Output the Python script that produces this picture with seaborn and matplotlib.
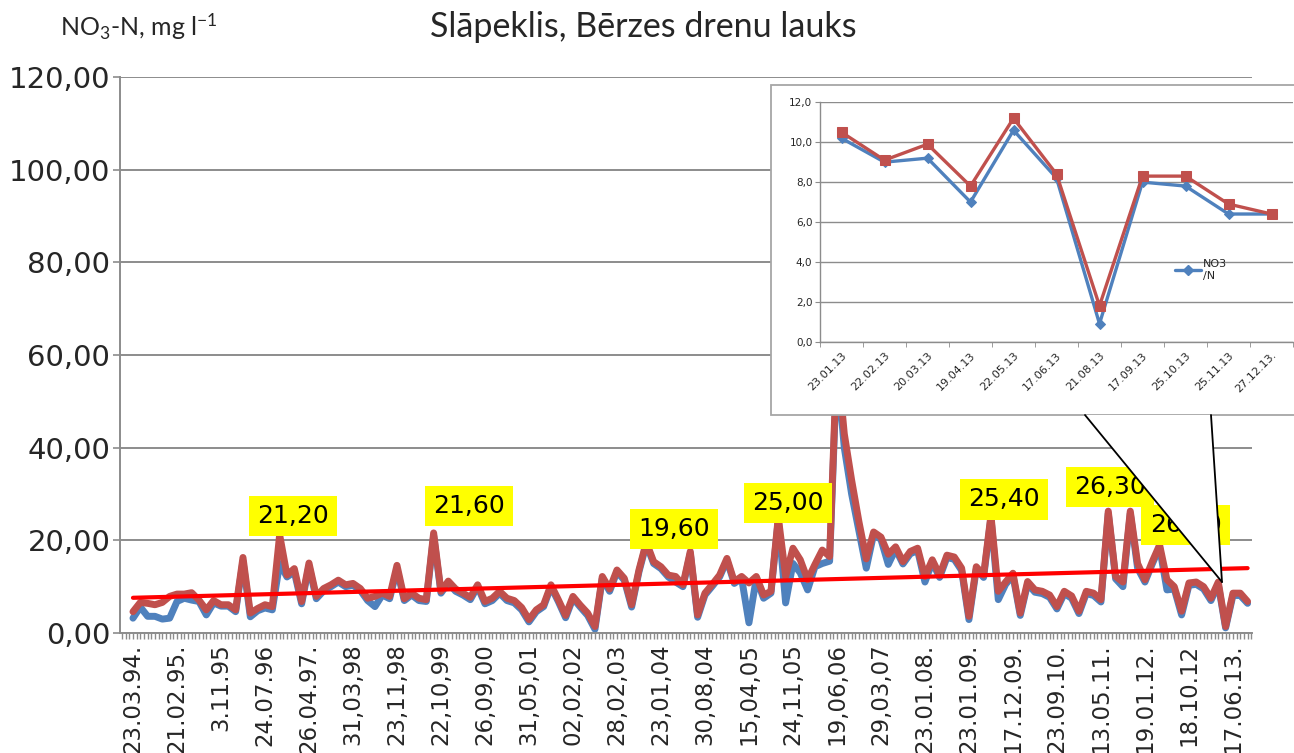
import numpy as np
import pandas as pd
import matplotlib
matplotlib.use("Agg")
import matplotlib.pyplot as plt
from matplotlib.patches import Rectangle, Polygon
from matplotlib.lines import Line2D
from matplotlib.ticker import FuncFormatter
import seaborn as sns

# main series: sampling dates (every 6th shown) and two nitrogen series, mg/l
date_labels = ["23.03.94.", "21.02.95.", "3.11.95", "24.07.96", "26.04.97.", "31,03,98",
               "23,11,98", "22,10,99", "26,09,00", "31,05,01", "02,02,02", "28,02,03",
               "23,01,04", "30,08,04", "15,04,05", "24,11,05", "19,06,06", "29,03,07",
               "23.01.08.", "23.01.09.", "17.12.09.", "23.09.10.", "13.05.11.", "19.01.12.",
               "18.10.12", "17.06.13."]

no3_n = [3.2, 5.6, 3.6, 3.6, 3.0, 3.2, 6.8, 7.5, 7.1, 6.8,
         3.9, 6.5, 5.8, 5.8, 4.6, 15.5, 3.5, 4.8, 5.4, 5.0,
         15.0, 12.1, 13.2, 6.3, 14.5, 7.4, 9.1, 10.0, 11.0, 10.0,
         10.3, 9.2, 7.0, 5.7, 8.2, 7.4, 13.8, 7.0, 8.2, 7.0,
         6.8, 21.0, 8.6, 10.8, 9.0, 8.2, 7.2, 10.0, 6.3, 7.0,
         8.6, 7.0, 6.5, 5.0, 2.4, 4.6, 5.7, 10.0, 6.8, 3.3,
         7.5, 5.6, 3.8, 0.8, 11.8, 9.0, 13.2, 11.4, 5.6, 13.2,
         19.2, 15.0, 13.9, 12.1, 11.0, 10.0, 17.2, 3.4, 8.2, 10.1,
         12.1, 15.7, 10.7, 11.8, 2.2, 11.8, 7.5, 8.6, 24.5, 6.5,
         15.0, 13.0, 9.3, 14.3, 15.0, 15.5, 58.0, 40.0, 30.0, 22.0,
         14.0, 21.3, 20.2, 14.8, 18.1, 14.9, 17.1, 17.8, 11.0, 15.3,
         12.0, 16.3, 15.9, 13.5, 2.9, 13.8, 12.0, 24.9, 7.2, 10.5,
         12.4, 3.8, 10.6, 8.8, 8.5, 7.7, 5.2, 8.5, 7.5, 4.2,
         8.5, 8.1, 6.7, 25.8, 11.7, 10.0, 25.8, 14.0, 11.0, 14.9,
         18.5, 9.3, 9.5, 3.9, 10.3, 10.5, 9.5, 7.0, 10.5, 1.1,
         8.1, 8.1, 6.4]

n_total = [4.6, 6.6, 6.4, 6.1, 6.6, 7.9, 8.4, 8.4, 8.7, 7.1,
           5.0, 7.0, 6.1, 6.1, 5.0, 16.3, 4.3, 5.3, 6.1, 5.7,
           21.2, 12.5, 13.9, 6.8, 15.1, 7.9, 9.6, 10.4, 11.4, 10.4,
           10.7, 9.6, 7.5, 7.9, 8.6, 7.9, 14.6, 7.4, 8.6, 7.5,
           7.2, 21.6, 9.0, 11.2, 9.5, 8.6, 7.7, 10.4, 6.8, 7.5,
           9.0, 7.5, 7.0, 5.5, 2.9, 5.0, 6.1, 10.4, 7.2, 3.8,
           7.9, 6.0, 4.3, 1.4, 12.2, 9.5, 13.6, 11.8, 6.1, 13.6,
           19.6, 15.4, 14.3, 12.5, 12.2, 10.4, 17.6, 3.9, 8.6, 10.5,
           12.5, 16.1, 11.1, 12.2, 10.8, 12.2, 8.2, 9.0, 25.0, 12.2,
           18.3, 15.8, 11.5, 14.8, 17.9, 16.5, 60.0, 43.0, 33.0, 24.0,
           16.0, 21.8, 20.7, 17.0, 18.6, 15.4, 17.6, 18.3, 12.2, 15.8,
           12.5, 16.8, 16.4, 14.0, 3.6, 14.3, 12.5, 25.4, 9.0, 11.0,
           12.9, 4.3, 11.1, 9.3, 9.0, 8.2, 5.7, 9.0, 8.0, 4.7,
           9.0, 8.6, 7.2, 26.3, 12.2, 11.0, 26.3, 15.0, 11.5, 15.4,
           19.0, 11.5, 10.0, 4.7, 10.8, 11.0, 10.0, 7.5, 11.0, 1.4,
           8.6, 8.6, 6.8]

trend_ends = [7.6, 14.0]

peak_idx = [20, 41, 70, 88, 117, 133, 140]
peak_text = ["21,20", "21,60", "19,60", "25,00", "25,40", "26,30", "26,00"]
peak_offset = [(13, 19), (35, 27), (28, 13), (10, 14), (13, 16), (2, 24), (26, 20)]

# inset: 2013
inset_dates = ["23.01.13", "22.02.13", "20.03.13", "19.04.13", "22.05.13", "17.06.13",
               "21.08.13", "17.09.13", "25.10.13", "25.11.13", "27.12.13."]
inset_no3 = [10.2, 9.0, 9.2, 7.0, 10.6, 8.2, 0.9, 8.0, 7.8, 6.4, 6.4]
inset_n = [10.5, 9.1, 9.9, 7.8, 11.2, 8.4, 1.8, 8.3, 8.3, 6.9, 6.4]

BLUE = "#4F81BD"
RED = "#C0504D"
GRID = "#8C8C8C"

sns.set_style("white")
plt.rcParams["font.family"] = ["DejaVu Sans"]
plt.rcParams["mathtext.fontset"] = "custom"
plt.rcParams["mathtext.rm"] = "Lato"
plt.rcParams["mathtext.it"] = "Lato:italic"

W, H = 1294, 753
fig = plt.figure(figsize=(W / 100, H / 100), dpi=100)


def fx(x):
    return x / W


def fy(y):
    return 1 - y / H


n = len(n_total)
df = pd.DataFrame({"idx": np.arange(n), "no3_n": no3_n, "n_total": n_total})

ax = fig.add_axes([fx(120), fy(633), fx(1252 - 120), (633 - 77) / H])
sns.lineplot(data=df, x="idx", y="no3_n", ax=ax, color=BLUE, lw=5.0, legend=False)
sns.lineplot(data=df, x="idx", y="n_total", ax=ax, color=RED, lw=5.0, legend=False)
sns.lineplot(x=[0, n - 1], y=trend_ends, ax=ax, color="#FF0000", lw=3.0, legend=False)

ax.set_xlim(-1.77, 152.6)
ax.set_ylim(0, 120)
ax.set_yticks(range(0, 121, 20))
ax.yaxis.set_major_formatter(FuncFormatter(lambda v, p: f"{v:.2f}".replace(".", ",")))
ax.set_xticks(range(0, n, 6))
ax.set_xticklabels(date_labels, rotation=90, fontsize=16.5, va="top", ha="center")
ax.set_xticks(np.arange(-1.5, n, 0.5), minor=True)
ax.tick_params(axis="y", labelsize=21, length=5, width=1.2, color=GRID, pad=2, left=True)
ax.tick_params(axis="x", which="both", length=4.5, width=1.0, color=GRID, pad=3, bottom=True)
ax.grid(axis="y", color=GRID, lw=1.4)
ax.set_axisbelow(True)
for s in ["top", "right"]:
    ax.spines[s].set_visible(False)
for s in ["left", "bottom"]:
    ax.spines[s].set_color(GRID)
    ax.spines[s].set_linewidth(1.4)
ax.set_xlabel("")
ax.set_ylabel("")

for i, txt, (dx, dy) in zip(peak_idx, peak_text, peak_offset):
    ax.annotate(txt, xy=(i, n_total[i]), xytext=(dx, dy), textcoords="offset pixels",
                ha="center", va="center", fontsize=18, color="black", zorder=6,
                bbox=dict(boxstyle="square,pad=0.33", fc="#FFFF00", ec="none"))

fig.text(fx(643), fy(27), "Slāpeklis, Bērzes drenu lauks", ha="center", va="center",
         fontsize=24.5, family=["Lato", "DejaVu Sans"])
fig.text(fx(60), fy(27), r"NO$_3$-N, mg l$^{-1}$", ha="left", va="center",
         fontsize=18, family=["Lato", "DejaVu Sans"])

# inset frame
fig.patches.append(Rectangle((fx(771), fy(415)), fx(1300 - 771), (415 - 85) / H,
                             transform=fig.transFigure, fc="white", ec="#A6A6A6",
                             lw=1.3, zorder=2))

ax_in = fig.add_axes([fx(820), fy(341.7), fx(473), 239.4 / H], zorder=3)
ax_in.patch.set_alpha(0)
idx_in = np.arange(len(inset_dates))
sns.lineplot(x=idx_in, y=inset_no3, ax=ax_in, color=BLUE, lw=2.4, marker="D", ms=5.5,
             mec=BLUE, legend=False)
sns.lineplot(x=idx_in, y=inset_n, ax=ax_in, color=RED, lw=2.4, marker="s", ms=6.5,
             mec=RED, legend=False)
ax_in.set_xlim(-0.5, len(inset_dates) - 0.5)
ax_in.set_ylim(0, 12)
ax_in.set_yticks(range(0, 13, 2))
ax_in.yaxis.set_major_formatter(FuncFormatter(lambda v, p: f"{v:.1f}".replace(".", ",")))
ax_in.set_xticks(idx_in)
ax_in.set_xticklabels(inset_dates, rotation=45, ha="right", va="top",
                      rotation_mode="anchor", fontsize=8)
ax_in.set_xticks(np.arange(-0.5, len(inset_dates), 1.0), minor=True)
ax_in.tick_params(axis="x", which="major", length=0, pad=6)
ax_in.tick_params(axis="x", which="minor", length=3.5, color=GRID, bottom=True)
ax_in.tick_params(axis="y", labelsize=7.5, length=3.5, color=GRID, left=True, pad=2)
ax_in.grid(axis="y", color=GRID, lw=1.0)
ax_in.set_axisbelow(True)
for s in ["top", "right"]:
    ax_in.spines[s].set_visible(False)
for s in ["left", "bottom"]:
    ax_in.spines[s].set_color(GRID)
    ax_in.spines[s].set_linewidth(1.0)
ax_in.set_xlabel("")
ax_in.set_ylabel("")
handle = Line2D([], [], color=BLUE, lw=2.4, marker="D", ms=5.5)
ax_in.legend([handle], ["NO3\n/N"], loc="center left", bbox_to_anchor=(0.73, 0.30),
             frameon=False, fontsize=8, handlelength=2.3, handletextpad=0.2)

# callout connecting the inset to the last year of the series
tri = [(fx(1085), fy(415)), (fx(1211), fy(415)), (fx(1222), fy(582))]
fig.patches.append(Polygon(tri, closed=True, transform=fig.transFigure, fc="white",
                           ec="none", zorder=4))
for p in (tri[0], tri[1]):
    fig.lines.append(Line2D([p[0], tri[2][0]], [p[1], tri[2][1]], transform=fig.transFigure,
                            color="black", lw=1.3, zorder=5))

fig.savefig("out.png", dpi=100)
